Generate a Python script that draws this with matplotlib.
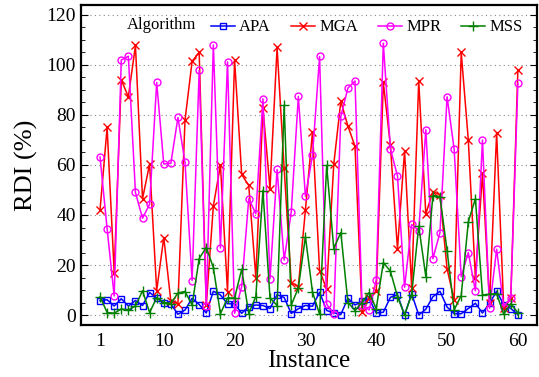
import matplotlib
matplotlib.use("Agg")
import matplotlib.pyplot as plt
from matplotlib.ticker import MultipleLocator

plt.rcParams["font.family"] = ["Liberation Serif", "DejaVu Serif"]

instances = list(range(1, 61))

apa = [5.8, 6.1, 3.6, 6.5, 3.6, 5.8, 3.8, 9.0, 6.8, 4.9,
       4.4, 0.3, 2.0, 6.7, 4.2, 0.8, 9.5, 8.0, 4.5, 4.5,
       0.7, 3.4, 4.0, 3.8, 2.6, 8.1, 7.0, 0.6, 2.5, 3.8,
       3.5, 9.1, 1.8, 0.9, 0.2, 6.7, 4.0, 5.5, 6.5, 0.8,
       1.1, 7.1, 8.1, 0.0, 8.5, 0.0, 2.3, 7.3, 9.5, 3.2,
       0.5, 0.5, 2.6, 4.7, 0.8, 4.7, 9.5, 4.1, 2.6, 0.2]

mga = [42.0, 75.0, 17.0, 94.0, 87.3, 107.8, 46.5, 60.4, 9.8, 31.0,
       5.5, 4.5, 78.0, 101.5, 105.0, 4.0, 43.6, 60.0, 9.4, 102.0,
       56.2, 51.8, 15.0, 82.8, 50.5, 107.0, 58.6, 12.9, 11.4, 42.0,
       73.3, 17.8, 10.3, 60.2, 85.5, 75.6, 67.5, 1.1, 7.0, 9.5,
       93.0, 67.8, 26.5, 65.6, 11.0, 93.6, 40.4, 49.4, 48.0, 18.5,
       6.0, 105.0, 70.0, 15.0, 56.6, 5.0, 72.8, 3.0, 7.0, 98.0]

mpr = [63.2, 34.5, 7.6, 102.0, 103.5, 49.0, 38.7, 44.3, 93.0, 60.4,
       60.7, 79.0, 61.0, 13.8, 97.8, 3.8, 108.0, 26.8, 101.2, 0.7,
       11.4, 46.5, 40.5, 86.5, 14.5, 58.2, 22.0, 41.2, 87.4, 47.5,
       63.8, 103.4, 4.3, 0.4, 79.4, 90.8, 93.6, 4.0, 2.0, 14.0,
       108.7, 66.5, 55.6, 11.1, 36.2, 33.8, 74.1, 22.5, 33.0, 87.3,
       66.4, 15.3, 25.0, 9.7, 70.0, 2.7, 26.3, 3.3, 6.9, 92.7]

mss = [7.3, 1.0, 0.7, 2.4, 2.0, 3.6, 9.7, 1.0, 6.9, 5.0,
       4.6, 8.8, 9.4, 4.0, 22.6, 27.0, 19.0, 0.5, 6.8, 6.8,
       18.3, 0.6, 7.4, 49.8, 6.8, 3.8, 83.8, 4.0, 10.8, 31.3,
       9.2, 0.3, 59.8, 26.6, 33.0, 5.0, 1.8, 5.0, 9.0, 2.5,
       21.0, 17.5, 7.4, 0.0, 8.2, 35.6, 15.4, 47.8, 47.3, 25.8,
       2.0, 7.8, 37.3, 46.5, 8.0, 8.3, 8.5, 0.3, 4.5, 0.9]

x_ticks = [1, 10, 20, 30, 40, 50, 60]

fig = plt.figure(figsize=(5.39, 3.77), dpi=100)
ax = fig.add_axes([80.7 / 539, 1 - 325 / 377, (537 - 80.7) / 539, 320 / 377])

ax.plot(instances, apa, color="#0000ff", marker="s", ms=4.5, mfc="none", mew=1, lw=1.1, label="APA")
ax.plot(instances, mga, color="#ff0000", marker="x", ms=6, mew=1, lw=1.1, label="MGA")
ax.plot(instances, mpr, color="#ff00ff", marker="o", ms=5, mfc="none", mew=1, lw=1.1, label="MPR")
ax.plot(instances, mss, color="#008000", marker="+", ms=7, mew=1, lw=1.1, label="MSS")

ax.set_xlim(-1.73, 62.7)
ax.set_ylim(-4, 124)
ax.set_xticks(x_ticks)
ax.yaxis.set_major_locator(MultipleLocator(20))
ax.yaxis.set_minor_locator(MultipleLocator(5))
ax.tick_params(axis="y", which="both", direction="in", left=True, right=True, labelsize=14)
ax.tick_params(axis="y", which="major", length=5)
ax.tick_params(axis="y", which="minor", length=3)
ax.tick_params(axis="x", length=0, labelsize=14, pad=6)
ax.grid(axis="y", linestyle=(0, (1, 3)), color="#888888", lw=0.8)
for s in ax.spines.values():
    s.set_linewidth(1.6)

ax.set_xlabel("Instance", fontsize=18, labelpad=0)
ax.set_ylabel("RDI (%)", fontsize=19, labelpad=6)

fig.text(127 / 539, 1 - 25 / 377, "Algorithm", fontsize=12, va="center")
ax.legend(loc="center left", bbox_to_anchor=(0.285, 0.93), ncol=4, frameon=False, fontsize=12,
          handlelength=1.45, handletextpad=0.25, columnspacing=1.2, borderaxespad=0, borderpad=0)

fig.savefig("out.png", dpi=100)
